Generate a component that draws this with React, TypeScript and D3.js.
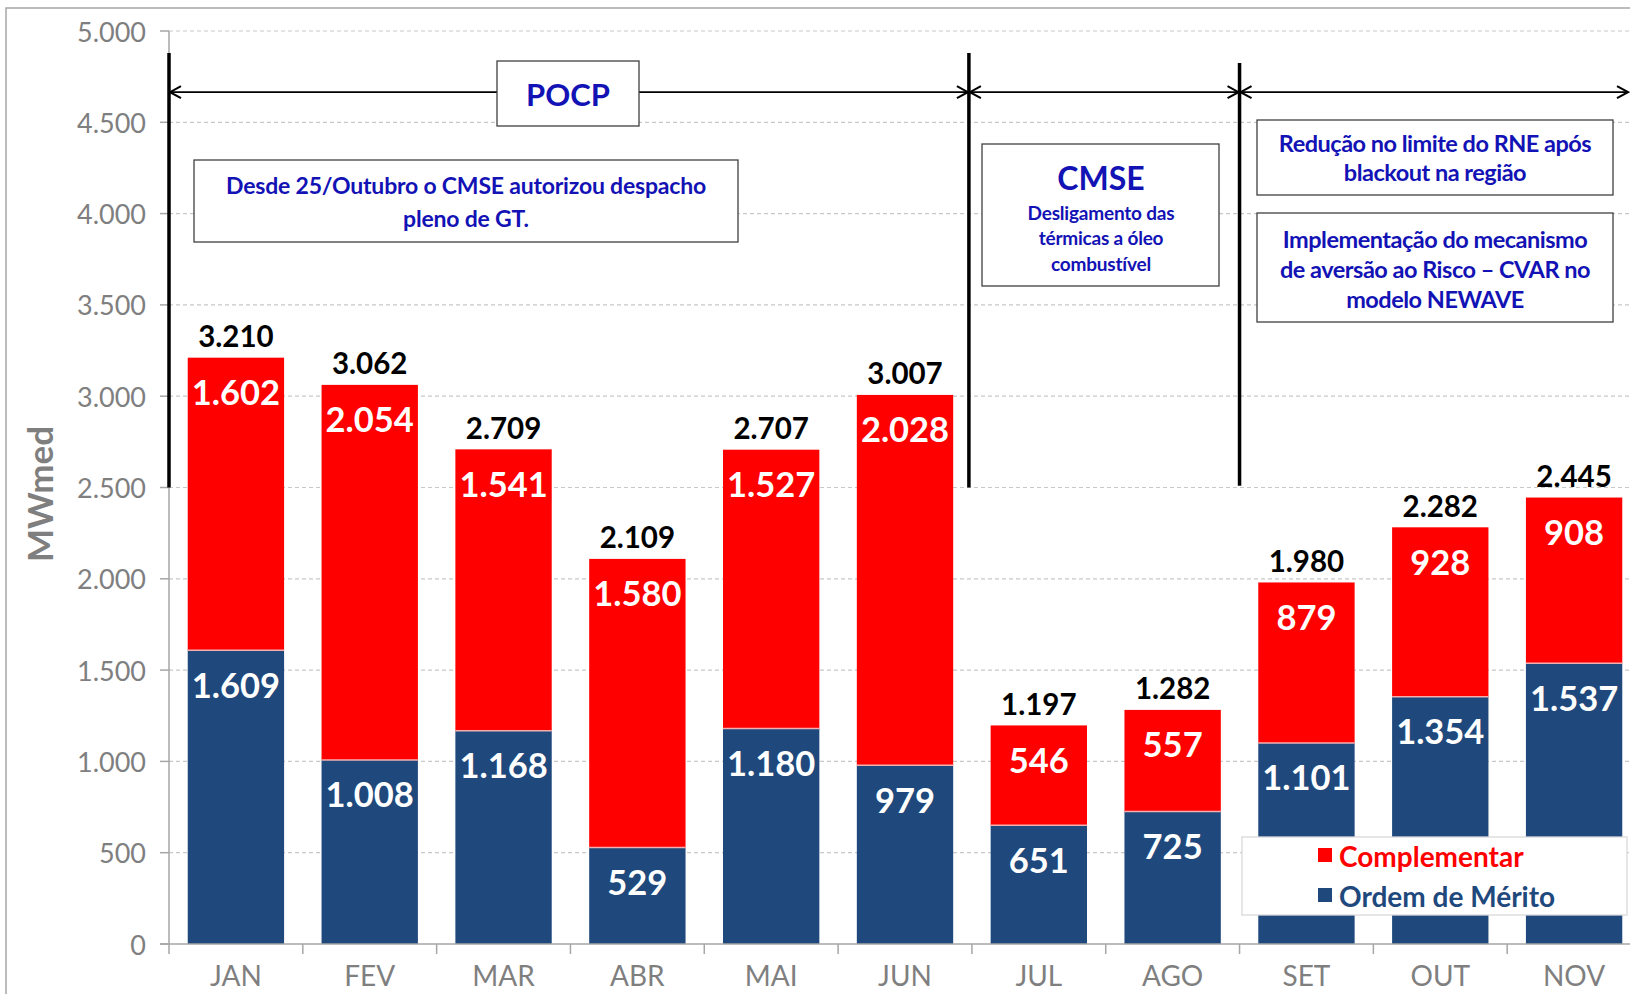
import React from "react";
import * as d3 from "d3";

const months = ["JAN", "FEV", "MAR", "ABR", "MAI", "JUN", "JUL", "AGO", "SET", "OUT", "NOV"];
const ordemDeMerito = [1609, 1008, 1168, 529, 1180, 979, 651, 725, 1101, 1354, 1537];
const complementar = [1602, 2054, 1541, 1580, 1527, 2028, 546, 557, 879, 928, 908];
const totals = [3210, 3062, 2709, 2109, 2707, 3007, 1197, 1282, 1980, 2282, 2445];
const yTicks = [0, 500, 1000, 1500, 2000, 2500, 3000, 3500, 4000, 4500, 5000];

const W = 1630;
const H = 994;
const FONT = "Lato, 'Open Sans', sans-serif";
const RED = "#FF0000";
const BLUE = "#1F497D";
const NOTE = "#1212B5";
const GRAY = "#7F7F7F";

const fmt = (v: number) => d3.format(",")(v).replace(/,/g, ".");

export default function App() {
  const x = d3.scaleBand<string>().domain(months).range([169, 1641]).paddingInner(0.28).paddingOuter(0.14);
  const y = d3.scaleLinear().domain([0, 5000]).range([944, 31]);
  const step = x.step();
  const boundary = (m: string) => (x(m) as number) - (step * 0.28) / 2;

  const xL1 = 169;
  const xL2 = boundary("JUL") - 3;
  const xL3 = boundary("SET");
  const arrowY = y(4665);

  const chevron = (tx: number, dir: number) =>
    `M${tx + dir * 11},${arrowY - 6} L${tx},${arrowY} L${tx + dir * 11},${arrowY + 6}`;

  return (
    <svg width={W} height={H} style={{ position: "absolute", left: 0, top: 0, background: "#fff" }} fontFamily={FONT}>
      <rect x={0} y={0} width={W} height={H} fill="#fff" />
      <rect x={6} y={8} width={W + 20} height={H + 20} fill="none" stroke="#A6A6A6" strokeWidth={1.5} />

      {/* gridlines */}
      {yTicks.filter((t) => t > 0).map((t) => (
        <line key={"g" + t} x1={169} x2={W} y1={y(t)} y2={y(t)} stroke="#C8C8C8" strokeWidth={1.2} strokeDasharray="4,3" />
      ))}

      {/* y axis */}
      <line x1={169} x2={169} y1={y(0)} y2={y(5000)} stroke="#A6A6A6" strokeWidth={1.5} />
      {yTicks.map((t) => (
        <g key={"t" + t}>
          <line x1={160} x2={169} y1={y(t)} y2={y(t)} stroke="#A6A6A6" strokeWidth={1.5} />
          <text x={146} y={y(t)} textAnchor="end" dominantBaseline="central" fontSize={27} fill={GRAY}>
            {fmt(t)}
          </text>
        </g>
      ))}
      <text transform={`translate(39,494) rotate(-90)`} textAnchor="middle" dominantBaseline="central" fontSize={35} fontWeight="bold" fill={GRAY}>
        MWmed
      </text>

      {/* bars */}
      {months.map((m, i) => {
        const bx = x(m) as number;
        const bw = x.bandwidth();
        const b = ordemDeMerito[i];
        const c = complementar[i];
        return (
          <g key={m}>
            <rect x={bx} y={y(b)} width={bw} height={y(0) - y(b)} fill={BLUE} />
            <rect x={bx} y={y(b + c)} width={bw} height={y(b) - y(b + c)} fill={RED} />
            <line x1={bx} x2={bx + bw} y1={y(b)} y2={y(b)} stroke="#F4B0B0" strokeWidth={1.5} />
            <text x={bx + bw / 2} y={y(b + c) + 34} textAnchor="middle" dominantBaseline="central" fontSize={34.5} fontWeight="bold" fill="#fff">
              {fmt(c)}
            </text>
            <text x={bx + bw / 2} y={y(b) + 34} textAnchor="middle" dominantBaseline="central" fontSize={34.5} fontWeight="bold" fill="#fff">
              {fmt(b)}
            </text>
            <text x={bx + bw / 2} y={y(b + c) - 22} textAnchor="middle" dominantBaseline="central" fontSize={29.5} fontWeight="bold" fill="#000">
              {fmt(totals[i])}
            </text>
          </g>
        );
      })}

      {/* x axis */}
      <line x1={160} x2={W} y1={y(0)} y2={y(0)} stroke="#A6A6A6" strokeWidth={1.5} />
      {months.map((m) => (
        <line key={"xt" + m} x1={boundary(m)} x2={boundary(m)} y1={y(0)} y2={y(0) + 10} stroke="#A6A6A6" strokeWidth={1.5} />
      ))}
      {months.map((m) => (
        <text key={"xl" + m} x={(x(m) as number) + x.bandwidth() / 2} y={975} textAnchor="middle" dominantBaseline="central" fontSize={28} fill={GRAY}>
          {m}
        </text>
      ))}

      {/* period markers */}
      <line x1={xL1} x2={xL1} y1={y(4880)} y2={y(2500)} stroke="#000" strokeWidth={3.5} />
      <line x1={xL2} x2={xL2} y1={y(4880)} y2={y(2500)} stroke="#000" strokeWidth={3.5} />
      <line x1={xL3} x2={xL3} y1={y(4825)} y2={y(2510)} stroke="#000" strokeWidth={3.5} />

      <g stroke="#000" strokeWidth={1.6} fill="none">
        <line x1={xL1} x2={xL2} y1={arrowY} y2={arrowY} />
        <line x1={xL2} x2={xL3} y1={arrowY} y2={arrowY} />
        <line x1={xL3} x2={1628} y1={arrowY} y2={arrowY} />
        <path d={chevron(xL1 + 1, 1)} strokeWidth={2} />
        <path d={chevron(xL2 - 1, -1)} strokeWidth={2} />
        <path d={chevron(xL2 + 1, 1)} strokeWidth={2} />
        <path d={chevron(xL3 - 1, -1)} strokeWidth={2} />
        <path d={chevron(xL3 + 1, 1)} strokeWidth={2} />
        <path d={chevron(1628, -1)} strokeWidth={2} />
      </g>

      {/* POCP box */}
      <rect x={497} y={61} width={142} height={65} fill="#fff" stroke="#404040" strokeWidth={1.3} />
      <text x={568} y={94} textAnchor="middle" dominantBaseline="central" fontSize={31} fontWeight="bold" fill={NOTE}>
        POCP
      </text>

      {/* Desde box */}
      <rect x={194} y={160} width={544} height={82} fill="#fff" stroke="#404040" strokeWidth={1.3} />
      <text x={466} y={185} textAnchor="middle" dominantBaseline="central" fontSize={23} fontWeight="bold" fill={NOTE} letterSpacing={-0.2}>
        Desde 25/Outubro o CMSE autorizou despacho
      </text>
      <text x={466} y={218} textAnchor="middle" dominantBaseline="central" fontSize={23} fontWeight="bold" fill={NOTE} letterSpacing={-0.2}>
        pleno de GT.
      </text>

      {/* CMSE box */}
      <rect x={982} y={144} width={237} height={142} fill="#fff" stroke="#404040" strokeWidth={1.3} />
      <text x={1101} y={177} textAnchor="middle" dominantBaseline="central" fontSize={32} fontWeight="bold" fill={NOTE}>
        CMSE
      </text>
      {["Desligamento das", "térmicas a óleo", "combustível"].map((s, i) => (
        <text key={s} x={1101} y={212 + i * 25.5} textAnchor="middle" dominantBaseline="central" fontSize={19} fontWeight="bold" fill={NOTE} letterSpacing={-0.2}>
          {s}
        </text>
      ))}

      {/* right boxes */}
      <rect x={1257} y={120} width={356} height={75} fill="#fff" stroke="#404040" strokeWidth={1.3} />
      {["Redução no limite do RNE após", "blackout na região"].map((s, i) => (
        <text key={s} x={1435} y={143 + i * 29} textAnchor="middle" dominantBaseline="central" fontSize={23.5} fontWeight="bold" fill={NOTE} letterSpacing={-0.5}>
          {s}
        </text>
      ))}
      <rect x={1257} y={213} width={356} height={109} fill="#fff" stroke="#404040" strokeWidth={1.3} />
      {["Implementação do mecanismo", "de aversão ao Risco – CVAR no", "modelo NEWAVE"].map((s, i) => (
        <text key={s} x={1435} y={239 + i * 30} textAnchor="middle" dominantBaseline="central" fontSize={23.5} fontWeight="bold" fill={NOTE} letterSpacing={-0.5}>
          {s}
        </text>
      ))}

      {/* legend */}
      <rect x={1242} y={837} width={385} height={78} fill="#fff" stroke="#D9D9D9" strokeWidth={1.3} />
      <rect x={1318} y={848} width={14} height={14} fill={RED} />
      <text x={1339} y={856} dominantBaseline="central" fontSize={28} fontWeight="bold" fill={RED}>
        Complementar
      </text>
      <rect x={1318} y={888} width={14} height={14} fill={BLUE} />
      <text x={1339} y={896} dominantBaseline="central" fontSize={28} fontWeight="bold" fill={BLUE}>
        Ordem de Mérito
      </text>
    </svg>
  );
}
